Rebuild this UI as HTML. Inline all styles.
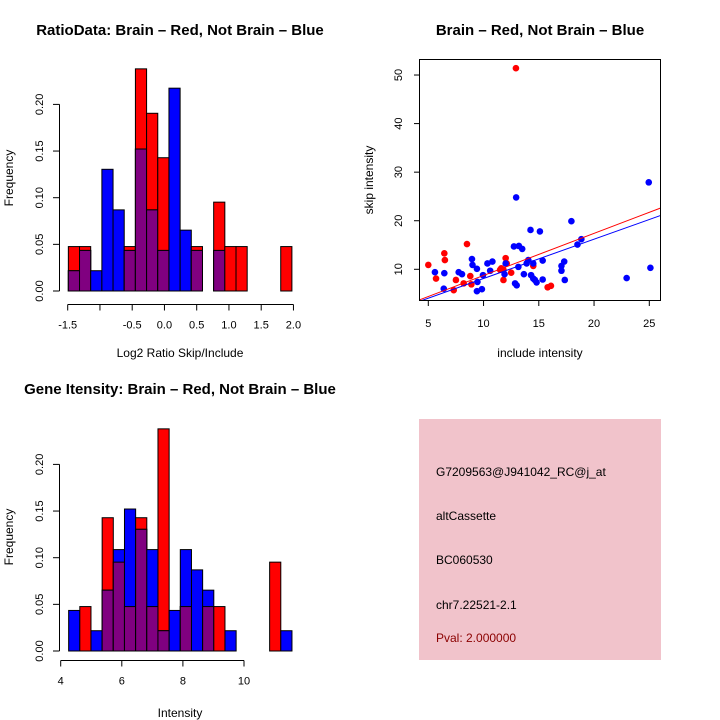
<!DOCTYPE html>
<html><head><meta charset="utf-8"><style>
html,body{margin:0;padding:0;background:#fff;}
svg{display:block;font-family:"Liberation Sans",sans-serif;}
</style></head><body>
<svg id="s" width="720" height="720" viewBox="0 0 720 720">
<rect width="720" height="720" fill="#fff"/>
<text x="180" y="35" text-anchor="middle" font-size="15" font-weight="bold">RatioData: Brain – Red, Not Brain – Blue</text>
<text x="180" y="357" text-anchor="middle" font-size="12">Log2 Ratio Skip/Include</text>
<text transform="translate(13,178) rotate(-90)" text-anchor="middle" font-size="12">Frequency</text>
<text x="540" y="35" text-anchor="middle" font-size="15" font-weight="bold">Brain – Red, Not Brain – Blue</text>
<text x="540" y="357" text-anchor="middle" font-size="12">include intensity</text>
<text transform="translate(373,180) rotate(-90)" text-anchor="middle" font-size="12">skip intensity</text>
<text x="180" y="394" text-anchor="middle" font-size="15" font-weight="bold">Gene Itensity: Brain – Red, Not Brain – Blue</text>
<text x="180" y="717" text-anchor="middle" font-size="12">Intensity</text>
<text transform="translate(13,537) rotate(-90)" text-anchor="middle" font-size="12">Frequency</text>
<g>
<rect x="419" y="419" width="242" height="241" fill="#f1c3cb"/>
<text x="436" y="476" font-size="12">G7209563@J941042_RC@j_at</text>
<text x="436" y="520" font-size="12">altCassette</text>
<text x="436" y="564" font-size="12">BC060530</text>
<text x="436" y="609" font-size="12">chr7.22521-2.1</text>
<text x="436" y="642" font-size="12" fill="#8b0000">Pval: 2.000000</text>
</g>
</svg>
<script>
// Histogram 1 (log2 ratio)
const ratioStart = -1.49, ratioBinWidth = 0.1733;
const ratioRedCounts = [1,1,0,0,0,1,5,4,3,0,0,1,0,2,1,1,0,0,0,1];
const ratioBlueCounts = [1,2,1,6,4,2,7,4,2,10,3,2,0,2,0,0,0,0,0,0];
const ratioXTicks = [-1.5,-1.0,-0.5,0.0,0.5,1.0,1.5,2.0];
const ratioXLabels = ["-1.5","","-0.5","0.0","0.5","1.0","1.5","2.0"];
// Histogram 2 (intensity)
const intStart = 4.26, intBinWidth = 0.3655;
const intRedCounts = [0,1,0,3,2,1,3,1,5,0,1,0,1,1,0,0,0,0,2,0];
const intBlueCounts = [2,0,1,3,5,7,6,5,1,2,5,4,3,0,1,0,0,0,0,1];
const intXTicks = [4,6,8,10];
const freqTicks = [0,0.05,0.10,0.15,0.20];
const freqLabels = ["0.00","0.05","0.10","0.15","0.20"];
// Scatter
const redX = [12.93,5.0,5.7,6.45,6.5,7.5,7.3,8.2,8.5,8.8,8.9,11.5,11.8,12.0,12.1,11.8,12.5,14.5,15.8,16.1,11.6];
const redY = [51.4,10.9,8.1,13.3,11.9,7.8,5.7,7.1,15.2,8.6,6.9,9.9,9.9,12.3,11.2,7.8,9.3,10.7,6.3,6.6,10.2];
const blueX = [5.6,6.45,6.4,7.75,8.05,8.95,9.0,9.4,9.4,9.85,9.45,9.95,10.35,10.6,10.8,11.9,12.0,12.75,12.95,13.2,13.5,13.15,12.85,13.0,13.65,14.05,13.9,14.25,14.3,14.5,14.65,14.8,14.5,15.1,15.35,15.35,17.05,17.05,17.3,17.35,17.95,18.5,18.85,22.95,24.95,25.1];
const blueY = [9.4,9.2,6.0,9.4,9.0,12.1,10.9,10.1,5.5,5.9,7.4,8.8,11.2,9.7,11.6,9.0,11.2,14.7,24.8,14.8,14.2,10.5,7.1,6.7,9.0,11.9,11.2,18.1,8.8,8.1,7.8,7.3,11.2,17.8,11.8,7.9,10.7,9.7,11.6,7.8,19.9,15.1,16.2,8.2,27.9,10.3];
const redFit = [0.06,0.867];
const blueFit = [0.0,0.81];
const scXTicks = [5,10,15,20,25];
const scYTicks = [10,20,30,40,50];

const NS = "http://www.w3.org/2000/svg";
const svg = document.getElementById('s');
function mk(tag, attrs, parent){const e=document.createElementNS(NS,tag);for(const k in attrs)e.setAttribute(k,attrs[k]);(parent||svg).appendChild(e);return e;}

function histogram(name, start, bw, redC, blueC, xScale, y0, xTicks, xLabels, axisY){
  const g = mk('g',{});
  
  
  const rt = redC.reduce((a,b)=>a+b,0), bt = blueC.reduce((a,b)=>a+b,0);
  const yS = v => y0 - v*933;
  for(let i=0;i<redC.length;i++){
    const x1 = xScale(start+i*bw), x2 = xScale(start+(i+1)*bw);
    const r = redC[i]/rt, b = blueC[i]/bt;
    if(r>0){const e=mk('rect',{x:x1,y:yS(r),width:x2-x1,height:y0-yS(r),fill:'#ff0000',stroke:'#000','stroke-width':1},g);
      
      }
    if(b>0){const e=mk('rect',{x:x1,y:yS(b),width:x2-x1,height:y0-yS(b),fill:'#0000ff',stroke:'#000','stroke-width':1},g);
      
      }
    const m=Math.min(r,b);
    if(m>0){const e=mk('rect',{x:x1,y:yS(m),width:x2-x1,height:y0-yS(m),fill:'#800080',stroke:'#000','stroke-width':1},g);
      
      }
  }
  mk('line',{x1:59.5,x2:59.5,y1:yS(0),y2:yS(0.2),stroke:'#000'},g);
  freqTicks.forEach((t,i)=>{
    mk('line',{x1:53,x2:59.5,y1:yS(t),y2:yS(t),stroke:'#000'},g);
    const tx=mk('text',{transform:`translate(43,${yS(t)}) rotate(-90)`,'text-anchor':'middle','font-size':11},g);
    tx.textContent=freqLabels[i];
    
    
  });
  mk('line',{x1:xScale(xTicks[0]),x2:xScale(xTicks[xTicks.length-1]),y1:axisY,y2:axisY,stroke:'#000'},g);
  xTicks.forEach((t,i)=>{
    mk('line',{x1:xScale(t),x2:xScale(t),y1:axisY,y2:axisY+6,stroke:'#000'},g);
    const tx=mk('text',{x:xScale(t),y:axisY+24,'text-anchor':'middle','font-size':11},g);
    tx.textContent=xLabels[i];
    
    
  });
}
histogram('ratio-histogram', ratioStart, ratioBinWidth, ratioRedCounts, ratioBlueCounts, v=>67.7+(v+1.5)*64.5, 291, ratioXTicks, ratioXLabels, 304.5);
histogram('intensity-histogram', intStart, intBinWidth, intRedCounts, intBlueCounts, v=>60.7+(v-4)*30.55, 651, intXTicks, intXTicks.map(String), 660.5);

const sx = v => 428.3+(v-5)*11.05;
const sy = v => 269.3-(v-10)*4.857;
const sg = mk('g',{});


mk('clipPath',{id:'clip'},sg); mk('rect',{x:419.5,y:59.5,width:241,height:241},document.getElementById('clip'));
redX.forEach((x,i)=>{const c=mk('circle',{cx:sx(x),cy:sy(redY[i]),r:3.3,fill:'#ff0000'},sg);
  
  });
blueX.forEach((x,i)=>{const c=mk('circle',{cx:sx(x),cy:sy(blueY[i]),r:3.3,fill:'#0000ff'},sg);
  
  });
[[redFit,'#ff0000','red-fit-line'],[blueFit,'#0000ff','blue-fit-line']].forEach(([f,col,nm])=>{
  const l=mk('line',{x1:sx(3),y1:sy(f[0]+f[1]*3),x2:sx(28),y2:sy(f[0]+f[1]*28),stroke:col,'stroke-width':1,'clip-path':'url(#clip)'},sg);
  
  
});
mk('rect',{x:419.5,y:59.5,width:241,height:241,fill:'none',stroke:'#000'},sg);
scXTicks.forEach(t=>{
  mk('line',{x1:sx(t),x2:sx(t),y1:300.5,y2:306,stroke:'#000'},sg);
  const tx=mk('text',{x:sx(t),y:327,'text-anchor':'middle','font-size':11},sg);
  tx.textContent=String(t);
  
  
});
scYTicks.forEach(t=>{
  mk('line',{x1:414,x2:419.5,y1:sy(t),y2:sy(t),stroke:'#000'},sg);
  const tx=mk('text',{transform:`translate(402,${sy(t)}) rotate(-90)`,'text-anchor':'middle','font-size':11},sg);
  tx.textContent=String(t);
  
  
});
</script>
</body></html>
